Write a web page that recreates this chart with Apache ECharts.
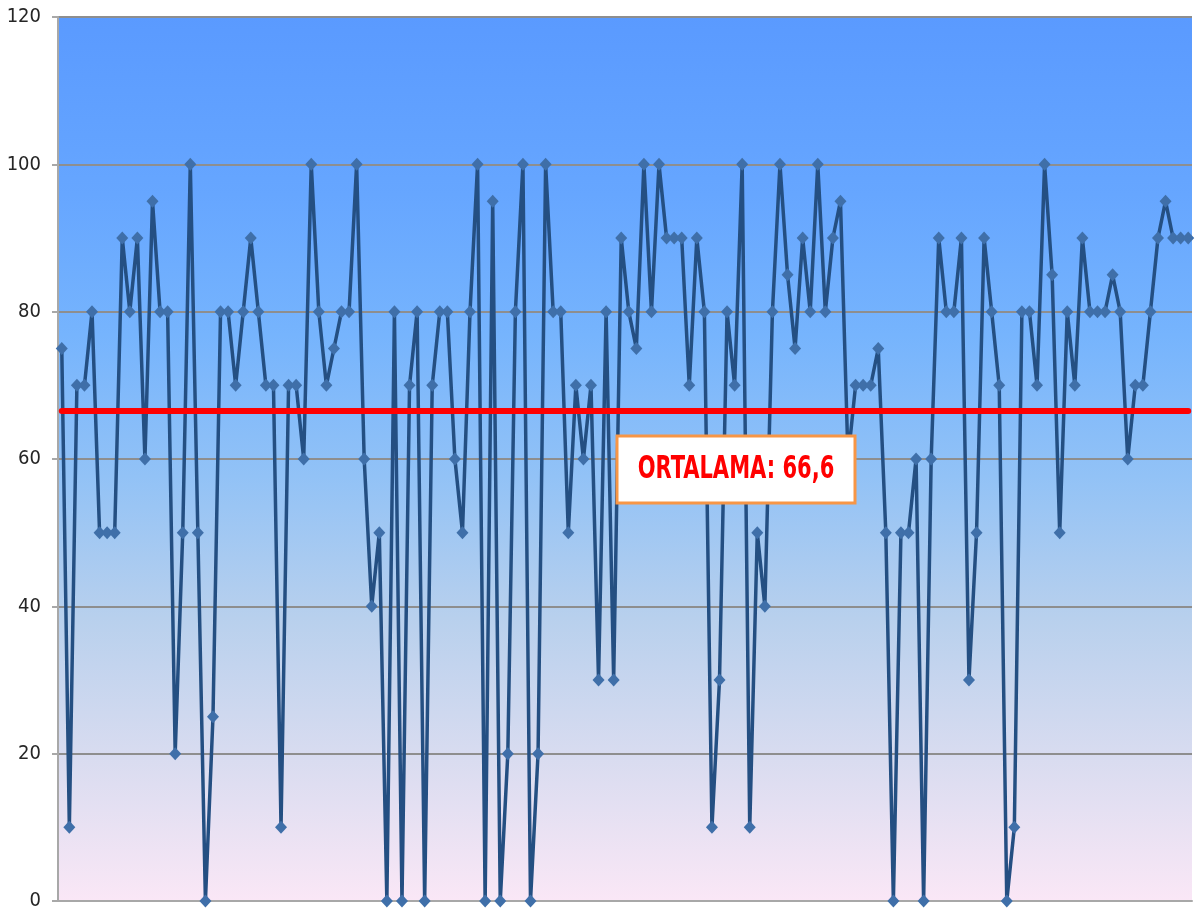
<!DOCTYPE html>
<html>
<head>
<meta charset="utf-8">
<script src="https://cdn.jsdelivr.net/npm/echarts@6/dist/echarts.min.js"></script>
<style>
  html, body { margin: 0; padding: 0; background: #ffffff; }
  #chart { width: 1202px; height: 913px; }
</style>
</head>
<body>
<div id="chart"></div>
<script>
// Scores (150 points)
const scores = [
  75, 10, 70, 70, 80, 50, 50, 50, 90, 80,
  90, 60, 95, 80, 80, 20, 50, 100, 50, 0,
  25, 80, 80, 70, 80, 90, 80, 70, 70, 10,
  70, 70, 60, 100, 80, 70, 75, 80, 80, 100,
  60, 40, 50, 0, 80, 0, 70, 80, 0, 70,
  80, 80, 60, 50, 80, 100, 0, 95, 0, 20,
  80, 100, 0, 20, 100, 80, 80, 50, 70, 60,
  70, 30, 80, 30, 90, 80, 75, 100, 80, 100,
  90, 90, 90, 70, 90, 80, 10, 30, 80, 70,
  100, 10, 50, 40, 80, 100, 85, 75, 90, 80,
  100, 80, 90, 95, 60, 70, 70, 70, 75, 50,
  0, 50, 50, 60, 0, 60, 90, 80, 80, 90,
  30, 50, 90, 80, 70, 0, 10, 80, 80, 70,
  100, 85, 50, 80, 70, 90, 80, 80, 80, 85,
  80, 60, 70, 70, 80, 90, 95, 90, 90, 90
];
const categories = scores.map((_, i) => String(i + 1));
const average = 66.6;
const averageLabel = 'ORTALAMA: 66,6';
const yTicks = [0, 20, 40, 60, 80, 100, 120];

const chart = echarts.init(document.getElementById('chart'), null, { renderer: 'canvas' });

chart.setOption({
  animation: false,
  backgroundColor: '#ffffff',
  grid: {
    left: 58, right: 10, top: 17, bottom: 12,
    show: true,
    borderWidth: 0,
    backgroundColor: {
      type: 'linear', x: 0, y: 0, x2: 0, y2: 1,
      colorStops: [
        { offset: 0, color: '#5a9aff' },
        { offset: 0.2, color: '#66a6ff' },
        { offset: 0.36, color: '#76b4fd' },
        { offset: 0.52, color: '#92c2f6' },
        { offset: 0.68, color: '#b8d0ed' },
        { offset: 0.84, color: '#d9dcf0' },
        { offset: 1, color: '#fae7f6' }
      ]
    }
  },
  xAxis: {
    type: 'category',
    data: categories,
    boundaryGap: true,
    axisLine: { show: true, lineStyle: { color: '#a8a8a8', width: 2 } },
    axisTick: { show: false },
    axisLabel: { show: false },
    splitLine: { show: false }
  },
  yAxis: {
    type: 'value',
    min: yTicks[0],
    max: yTicks[yTicks.length - 1],
    interval: 20,
    axisLine: { show: true, lineStyle: { color: '#a8a8a8', width: 2 } },
    axisTick: { show: true, length: 6, lineStyle: { color: '#a8a8a8', width: 2 } },
    axisLabel: {
      show: true,
      margin: 17,
      color: '#262626',
      fontSize: 20,
      fontFamily: '"DejaVu Sans Condensed", "Liberation Sans", sans-serif'
    },
    splitLine: { show: true, lineStyle: { color: '#8e8e8e', width: 2 } }
  },
  series: [
    {
      type: 'line',
      z: 2,
      data: scores,
      symbol: 'diamond',
      symbolSize: [12, 13],
      showAllSymbol: true,
      lineStyle: { color: '#244f82', width: 3.5 },
      itemStyle: { color: '#3f6fa9', borderWidth: 0 },
      emphasis: { disabled: true },
      markLine: {
        silent: true,
        symbol: ['none', 'none'],
        z: 5,
        label: { show: false },
        lineStyle: { color: '#ff0000', width: 6, type: 'solid', cap: 'round' },
        data: [[
          { coord: [categories[0], average] },
          { coord: [categories[categories.length - 1], average] }
        ]]
      }
    }
  ],
  graphic: [
    {
      type: 'rect',
      z: 100,
      zlevel: 1,
      shape: { x: 617, y: 436, width: 238, height: 67 },
      style: { fill: '#ffffff', stroke: '#f79646', lineWidth: 3 }
    },
    {
      type: 'text',
      z: 101,
      zlevel: 1,
      x: 736,
      y: 470,
      scaleX: 0.73,
      scaleY: 1,
      style: {
        text: averageLabel,
        fill: '#ff0000',
        font: 'bold 32px "DejaVu Sans Condensed", "Liberation Sans", sans-serif',
        align: 'center',
        verticalAlign: 'middle'
      }
    }
  ]
});
</script>
</body>
</html>
